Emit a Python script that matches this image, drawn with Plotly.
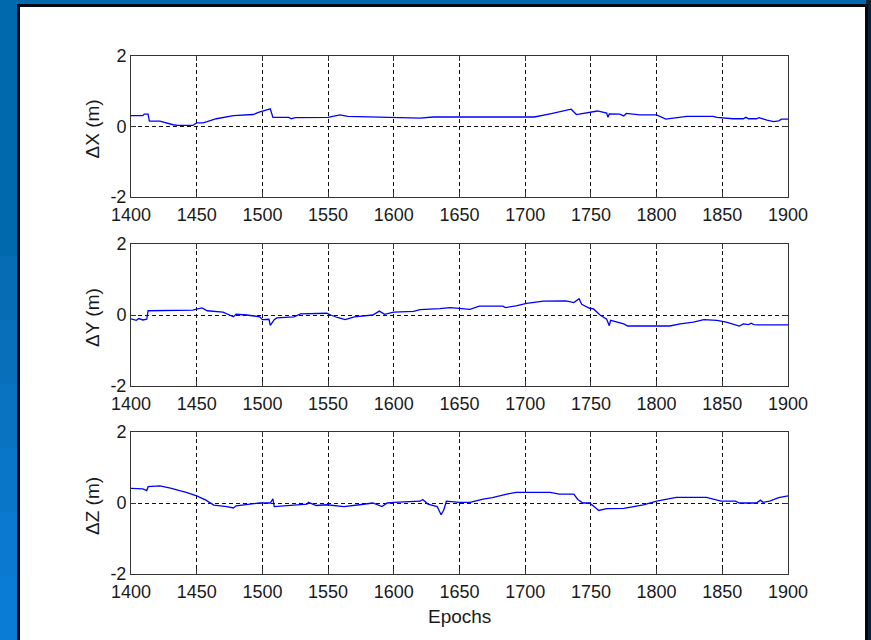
import plotly.graph_objects as go

# ---------------- data ----------------
epochs_x = [1400, 1409, 1410, 1413, 1414, 1422, 1432, 1436, 1447, 1450, 1455, 1465, 1478, 1493,
            1497, 1506, 1508, 1520, 1522, 1525, 1550, 1555, 1559, 1565, 1600, 1610, 1620, 1630,
            1680, 1707, 1719, 1729, 1735, 1739, 1743, 1752, 1755, 1762, 1763, 1764, 1772, 1775,
            1777, 1787, 1800, 1807, 1812, 1823, 1843, 1846, 1858, 1866, 1868, 1870, 1876, 1878,
            1884, 1889, 1893, 1895, 1900]
dx = [0.31, 0.31, 0.35, 0.35, 0.15, 0.15, 0.05, 0.03, 0.03, 0.10, 0.10, 0.22, 0.31, 0.34,
      0.40, 0.50, 0.26, 0.26, 0.22, 0.25, 0.26, 0.29, 0.33, 0.29, 0.27, 0.25, 0.24, 0.27,
      0.27, 0.27, 0.36, 0.44, 0.49, 0.34, 0.36, 0.41, 0.44, 0.38, 0.26, 0.36, 0.35, 0.30,
      0.37, 0.33, 0.33, 0.21, 0.24, 0.29, 0.29, 0.26, 0.22, 0.22, 0.26, 0.22, 0.22, 0.25,
      0.18, 0.14, 0.16, 0.21, 0.21]

epochs_y = [1400, 1404, 1406, 1409, 1412, 1413, 1447, 1454, 1458, 1466, 1470, 1478, 1480, 1488,
            1498, 1500, 1505, 1506, 1509, 1511, 1524, 1529, 1549, 1552, 1557, 1563, 1570, 1584,
            1589, 1593, 1600, 1615, 1620, 1635, 1643, 1658, 1665, 1683, 1685, 1693, 1701, 1714,
            1731, 1737, 1741, 1743, 1749, 1752, 1757, 1762, 1764, 1765, 1775, 1778, 1810, 1818,
            1828, 1836, 1846, 1853, 1857, 1863, 1866, 1870, 1872, 1874, 1877, 1900]
dy = [-0.11, -0.15, -0.10, -0.14, -0.12, 0.12, 0.14, 0.20, 0.12, 0.10, 0.08, -0.05, 0.02, 0.00,
      -0.05, -0.13, -0.12, -0.29, -0.13, -0.08, -0.05, 0.03, 0.05, 0.00, -0.07, -0.13, -0.05, 0.00,
      0.11, 0.02, 0.08, 0.10, 0.15, 0.18, 0.21, 0.16, 0.25, 0.25, 0.21, 0.26, 0.33, 0.39,
      0.40, 0.35, 0.46, 0.30, 0.19, 0.17, 0.00, -0.12, -0.30, -0.15, -0.25, -0.31, -0.31, -0.25,
      -0.20, -0.13, -0.15, -0.20, -0.25, -0.31, -0.25, -0.27, -0.23, -0.27, -0.28, -0.28]

epochs_z = [1400, 1409, 1412, 1413, 1422, 1430, 1442, 1450, 1457, 1463, 1473, 1478, 1480, 1488,
            1498, 1506, 1508, 1509, 1524, 1534, 1535, 1541, 1549, 1562, 1574, 1584, 1591, 1595,
            1600, 1620, 1622, 1626, 1633, 1636, 1638, 1640, 1650, 1658, 1668, 1675, 1686, 1693,
            1719, 1726, 1737, 1740, 1744, 1749, 1756, 1762, 1775, 1790, 1800, 1815, 1838, 1845,
            1849, 1860, 1863, 1876, 1879, 1881, 1886, 1893, 1900]
dz = [0.41, 0.40, 0.35, 0.46, 0.48, 0.42, 0.30, 0.20, 0.08, -0.06, -0.10, -0.14, -0.08, -0.05,
      0.00, 0.00, 0.12, -0.10, -0.05, -0.03, 0.02, -0.07, -0.05, -0.10, -0.05, 0.00, -0.10, 0.00,
      0.02, 0.05, 0.10, -0.03, -0.10, -0.33, -0.20, 0.05, 0.02, 0.02, 0.11, 0.15, 0.25, 0.30,
      0.30, 0.25, 0.25, 0.10, 0.00, 0.00, -0.21, -0.16, -0.15, -0.05, 0.05, 0.16, 0.16, 0.10,
      0.05, 0.05, 0.00, 0.00, 0.08, 0.02, 0.05, 0.15, 0.20]

x_ticks = [1400, 1450, 1500, 1550, 1600, 1650, 1700, 1750, 1800, 1850, 1900]
x_tick_labels = [str(v) for v in x_ticks]
y_ticks = [-2, 0, 2]
y_tick_labels = ["-2", "0", "2"]
y_titles = ["\u0394X (m)", "\u0394Y (m)", "\u0394Z (m)"]
x_title = "Epochs"

# ---------------- figure ----------------
W, H = 871, 640
FONT = "Liberation Sans, Arial, sans-serif"
TXT = "#1a1a1a"

fig = go.Figure()
series = [(epochs_x, dx), (epochs_y, dy), (epochs_z, dz)]
for i, (ex, ev) in enumerate(series):
    fig.add_trace(go.Scatter(x=ex, y=ev, mode="lines",
                             line=dict(color="#0000ff", width=1.3),
                             xaxis="x" if i == 0 else f"x{i+1}",
                             yaxis="y" if i == 0 else f"y{i+1}",
                             showlegend=False, hoverinfo="skip"))

# pixel boxes of the three axes (top, bottom)
x_left, x_right = 131, 788
boxes = [(56, 197), (244, 386), (432, 574)]

layout = dict(width=W, height=H, margin=dict(l=0, r=0, t=0, b=0),
              paper_bgcolor="#0068ad", plot_bgcolor="white", showlegend=False,
              font=dict(family=FONT, size=18, color=TXT))

common_x = dict(range=[1400, 1900], tickmode="array", tickvals=x_ticks, ticktext=x_tick_labels,
                showgrid=True, gridcolor="#111111", gridwidth=1.2, griddash="4px,3px",
                showline=True, linecolor="#333333", linewidth=1, mirror="ticks",
                ticks="inside", ticklen=5, tickcolor="#333333", zeroline=False,
                automargin=False, ticklabelstandoff=1,
                tickfont=dict(family=FONT, size=18, color=TXT))
common_y = dict(range=[-2, 2], tickmode="array", tickvals=y_ticks, ticktext=y_tick_labels,
                showgrid=True, gridcolor="#111111", gridwidth=1.2, griddash="4px,3px",
                showline=True, linecolor="#333333", linewidth=1, mirror="ticks",
                ticks="inside", ticklen=5, tickcolor="#333333", zeroline=False,
                automargin=False, tickfont=dict(family=FONT, size=18, color=TXT))

annotations = []
for i, (top, bot) in enumerate(boxes):
    xk = "xaxis" if i == 0 else f"xaxis{i+1}"
    yk = "yaxis" if i == 0 else f"yaxis{i+1}"
    ya = "y" if i == 0 else f"y{i+1}"
    xa = "x" if i == 0 else f"x{i+1}"
    layout[xk] = dict(common_x, domain=[x_left / W, x_right / W], anchor=ya)
    layout[yk] = dict(common_y, domain=[1 - bot / H, 1 - top / H], anchor=xa)
    annotations.append(dict(text=y_titles[i], textangle=-90, xref="paper", yref="paper",
                            x=92 / W, y=1 - ((top + bot) / 2 + 3) / H,
                            xanchor="center", yanchor="middle", showarrow=False,
                            font=dict(family=FONT, size=19, color=TXT)))
annotations.append(dict(text=x_title, xref="paper", yref="paper", x=459 / W, y=1 - 616 / H,
                        xanchor="center", yanchor="middle", showarrow=False,
                        font=dict(family=FONT, size=19, color=TXT)))
layout["annotations"] = annotations

# blue slide background: stepped lighter band toward the bottom-left
left_steps = ["#066cb4", "#0870bb", "#0973c1", "#0a76c8", "#0a79cf", "#0b7cd6"]
shapes = []
n = len(left_steps)
for k, col in enumerate(left_steps):
    y_hi = 0.6 - k * 0.6 / n
    y_lo = 0.6 - (k + 1) * 0.6 / n
    shapes.append(dict(type="rect", xref="paper", yref="paper", x0=0, x1=18 / W,
                       y0=y_lo, y1=y_hi, fillcolor=col, line=dict(width=0), layer="below"))
shapes.append(dict(type="rect", xref="paper", yref="paper", x0=866 / W, x1=1, y0=0, y1=1,
                   fillcolor="#0a2236", line=dict(width=0), layer="below"))
shapes.append(dict(type="rect", xref="paper", yref="paper", x0=18.5 / W, x1=866.5 / W,
                   y0=-6 / H, y1=1 - 5.5 / H, fillcolor="white",
                   line=dict(color="#000a14", width=3), layer="below"))
layout["shapes"] = shapes

fig.update_layout(**layout)
fig.write_html("out.html")
